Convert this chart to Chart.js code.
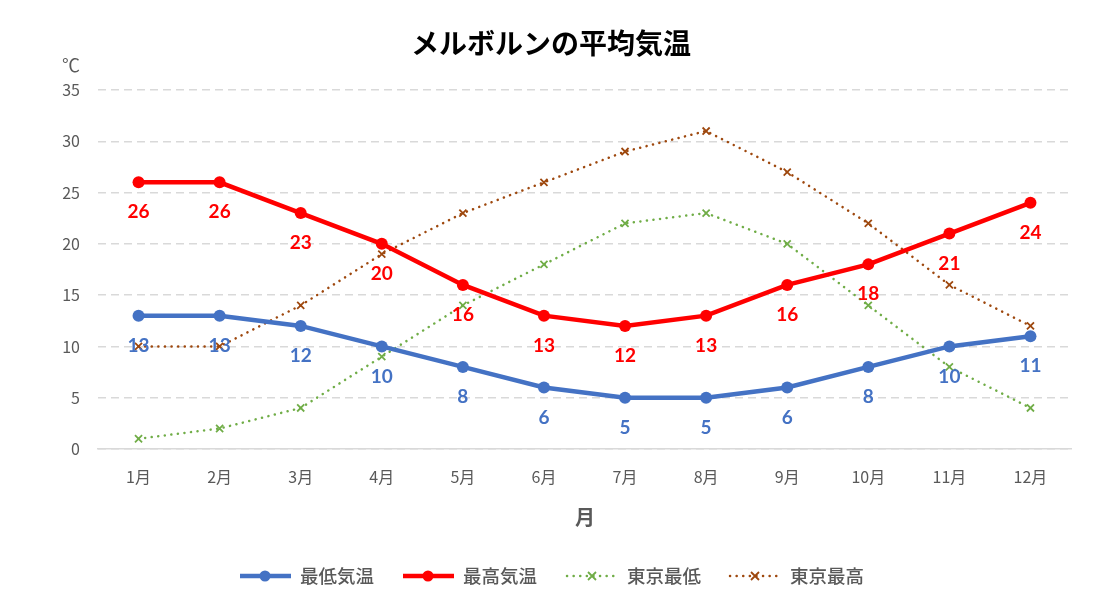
<!DOCTYPE html>
<html lang="ja">
<head>
  <meta charset="UTF-8" />
  <title>メルボルンの平均気温</title>
  <script src="https://cdn.jsdelivr.net/npm/chart.js"></script>
  <style>
    body { margin: 0; background: #ffffff; }
    #wrap { width: 1095px; height: 606px; position: relative; }
  </style>
</head>
<body>
<div id="wrap"><canvas id="tempChart"></canvas></div>
<script>
// data
const months = ['1月','2月','3月','4月','5月','6月','7月','8月','9月','10月','11月','12月'];
const melLow  = [13, 13, 12, 10, 8, 6, 5, 5, 6, 8, 10, 11];
const melHigh = [26, 26, 23, 20, 16, 13, 12, 13, 16, 18, 21, 24];
const tokyoLow  = [1, 2, 4, 9, 14, 18, 22, 23, 20, 14, 8, 4];
const tokyoHigh = [10, 10, 14, 19, 23, 26, 29, 31, 27, 22, 16, 12];
const yTicks = [0, 5, 10, 15, 20, 25, 30, 35];

const JP = '"Noto Sans CJK JP", "Noto Sans", sans-serif';
const NUM = 'Lato, "Open Sans", sans-serif';
const GREY = '#595959';

// labels under points, title, unit, axis name and legend are drawn here
const extras = {
  id: 'extras',
  afterDatasetsDraw(chart) {
    const ctx = chart.ctx;
    ctx.save();
    ctx.font = 'bold 19px ' + NUM;
    ctx.textAlign = 'center';
    ctx.textBaseline = 'middle';
    chart.data.datasets.forEach((ds, i) => {
      if (!ds.showValues) return;
      ctx.fillStyle = ds.borderColor;
      chart.getDatasetMeta(i).data.forEach((pt, j) => {
        ctx.fillText(String(ds.data[j]), pt.x, pt.y + 30);
      });
    });
    ctx.restore();
  },
  afterDraw(chart) {
    const ctx = chart.ctx;
    ctx.save();
    ctx.textBaseline = 'middle';
    ctx.textAlign = 'center';
    ctx.fillStyle = '#000000';
    ctx.font = 'bold 28px ' + JP;
    ctx.fillText('メルボルンの平均気温', 551, 43);

    ctx.fillStyle = GREY;
    ctx.font = '18px ' + JP;
    ctx.fillText('℃', 71, 65);

    ctx.font = 'bold 20px ' + JP;
    ctx.fillText('月', 585, 517);

    // legend
    const items = [
      { ds: chart.data.datasets[0], x0: 240 },
      { ds: chart.data.datasets[1], x0: 403 },
      { ds: chart.data.datasets[2], x0: 567 },
      { ds: chart.data.datasets[3], x0: 730 }
    ];
    const ly = 576;
    items.forEach(it => {
      const ds = it.ds;
      ctx.save();
      ctx.strokeStyle = ds.borderColor;
      ctx.lineWidth = ds.borderWidth;
      ctx.lineCap = ds.borderCapStyle || 'butt';
      ctx.setLineDash(ds.borderDash || []);
      ctx.beginPath();
      ctx.moveTo(it.x0, ly);
      ctx.lineTo(it.x0 + 51, ly);
      ctx.stroke();
      ctx.restore();
      const cx = it.x0 + 25;
      if (ds.pointStyle === 'circle') {
        ctx.fillStyle = ds.borderColor;
        ctx.beginPath();
        ctx.arc(cx, ly, 5.5, 0, Math.PI * 2);
        ctx.fill();
      } else {
        ctx.strokeStyle = ds.borderColor;
        ctx.lineWidth = 1.8;
        ctx.beginPath();
        ctx.moveTo(cx - 4, ly - 4); ctx.lineTo(cx + 4, ly + 4);
        ctx.moveTo(cx + 4, ly - 4); ctx.lineTo(cx - 4, ly + 4);
        ctx.stroke();
      }
      ctx.fillStyle = GREY;
      ctx.font = '500 18.5px ' + JP;
      ctx.textAlign = 'left';
      ctx.fillText(ds.label, it.x0 + 60, ly);
    });
    ctx.restore();
  }
};

const ctx = document.getElementById('tempChart').getContext('2d');
new Chart(ctx, {
  type: 'line',
  data: {
    labels: months,
    datasets: [
      {
        label: '最低気温',
        data: melLow,
        borderColor: '#4472C4',
        backgroundColor: '#4472C4',
        borderWidth: 4.5,
        pointStyle: 'circle',
        pointRadius: 6,
        pointBorderWidth: 0,
        showValues: true,
        order: 2
      },
      {
        label: '最高気温',
        data: melHigh,
        borderColor: '#FF0000',
        backgroundColor: '#FF0000',
        borderWidth: 4.5,
        pointStyle: 'circle',
        pointRadius: 6,
        pointBorderWidth: 0,
        showValues: true,
        order: 1
      },
      {
        label: '東京最低',
        data: tokyoLow,
        borderColor: '#70AD47',
        backgroundColor: '#70AD47',
        borderWidth: 2.5,
        borderDash: [0.1, 6.5],
        borderCapStyle: 'round',
        pointStyle: 'crossRot',
        pointRadius: 5,
        pointBorderWidth: 1.8,
        order: 4
      },
      {
        label: '東京最高',
        data: tokyoHigh,
        borderColor: '#9E480E',
        backgroundColor: '#9E480E',
        borderWidth: 2.5,
        borderDash: [0.1, 6.5],
        borderCapStyle: 'round',
        pointStyle: 'crossRot',
        pointRadius: 5,
        pointBorderWidth: 1.8,
        order: 3
      }
    ]
  },
  options: {
    responsive: true,
    maintainAspectRatio: false,
    animation: false,
    events: [],
    layout: { padding: { top: 90, left: 48, right: 24, bottom: 97 } },
    plugins: {
      legend: { display: false },
      title: { display: false },
      tooltip: { enabled: false }
    },
    scales: {
      x: {
        offset: true,
        afterFit: s => { s.height = 60; },
        grid: { display: false, drawTicks: false },
        border: { display: true, color: '#d9d9d9', width: 1.5 },
        ticks: { color: GREY, font: { size: 16, family: JP }, padding: 18, maxRotation: 0 }
      },
      y: {
        min: 0,
        max: 35,
        afterFit: s => { s.width = 50; },
        afterBuildTicks: s => { s.ticks = yTicks.map(v => ({ value: v })); },
        grid: { color: '#d9d9d9', lineWidth: 1.5, drawTicks: false },
        border: { display: false, dash: [8, 5] },
        ticks: { color: GREY, font: { size: 16, family: JP }, padding: 18 }
      }
    }
  },
  plugins: [extras]
});
</script>
</body>
</html>
